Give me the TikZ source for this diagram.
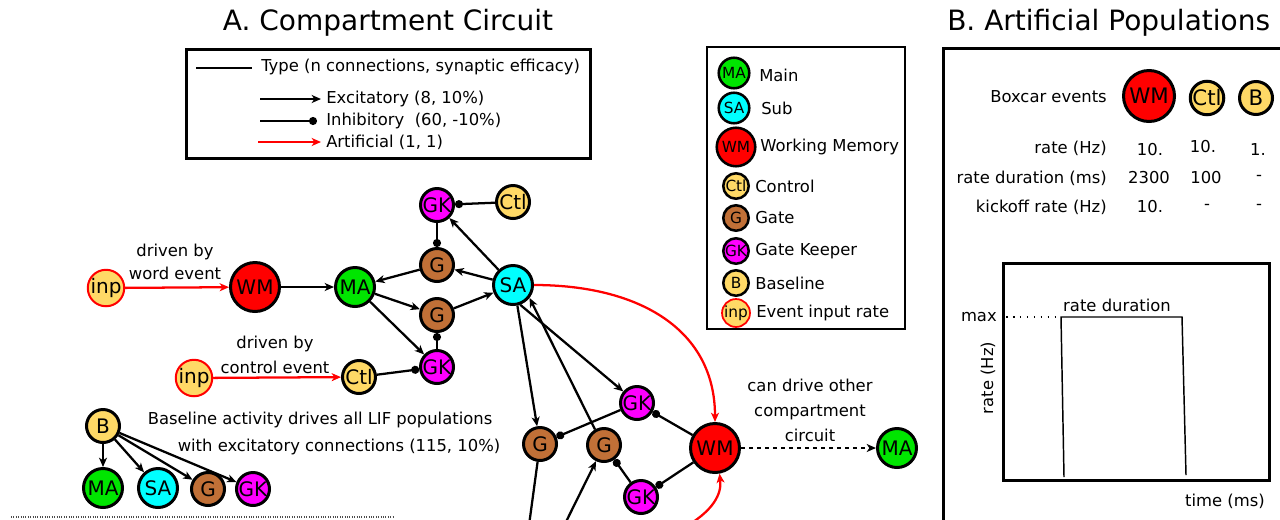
\documentclass[tikz,border=0pt]{standalone}
\usepackage{fontspec}
\setmainfont{DejaVu Sans}
\usetikzlibrary{arrows.meta}
\definecolor{cMA}{RGB}{0,230,0}
\definecolor{cSA}{RGB}{0,255,255}
\definecolor{cWM}{RGB}{255,0,0}
\definecolor{cY}{RGB}{255,217,102}
\definecolor{cG}{RGB}{193,112,55}
\definecolor{cGK}{RGB}{255,0,255}
\begin{document}
\begin{tikzpicture}[x=0.75pt,y=-0.75pt,
  pop/.style={circle,draw=black,line width=2.25pt,inner sep=0pt,font=\fontsize{15}{15}\selectfont},
  big/.style={pop,minimum size=36.75pt},
  med/.style={pop,minimum size=29.25pt},
  sml/.style={pop,minimum size=24.75pt},
  inpnode/.style={sml,draw=red,line width=1.5pt,fill=cY,minimum size=26pt},
  lpop/.style={circle,draw=black,line width=1.9pt,inner sep=0pt,font=\fontsize{11.5}{11.5}\selectfont},
  lbig/.style={lpop,minimum size=28.9pt},
  lmed/.style={lpop,minimum size=22.9pt},
  lsml/.style={lpop,minimum size=19.1pt},
  ppop/.style={circle,draw=black,line width=2.25pt,inner sep=0pt,font=\fontsize{16}{16}\selectfont},
  exc/.style={line width=1.7pt,-{Stealth[length=7pt,width=6pt,inset=2pt]}},
  inh/.style={line width=1.7pt,-{Circle[length=6pt]}},
  art/.style={line width=1.7pt,draw=red,-{Stealth[length=7pt,width=6pt,inset=2pt]}},
  txt/.style={font=\fontsize{12.3}{14}\selectfont,inner sep=0pt},
  ttl/.style={font=\fontsize{21}{24}\selectfont,inner sep=0pt},
]
\useasboundingbox (0,0) rectangle (1280,519);
\clip (0,0) rectangle (1280,519);

% titles
\node[ttl] (titleA) at (388,23) {A. Compartment Circuit};
\node[ttl,anchor=west] (titleB) at (947,23) {B. Artificial Populations};

% legend box 1
\draw[line width=2.25pt] (186,49) rectangle (590,158);
\coordinate (t1) at (196,68); \coordinate (t2) at (252,68);
\coordinate (e1) at (260,99); \coordinate (e2) at (321,99);
\coordinate (i1) at (260,121); \coordinate (i2) at (317,121);
\coordinate (a1) at (258,142); \coordinate (a2) at (321,142);
\draw[line width=1.6pt] (t1) -- (t2);
\draw[exc] (e1) -- (e2);
\draw[inh] (i1) -- (i2);
\draw[art] (a1) -- (a2);
\node[txt,anchor=west] (ltype) at (261,67) {Type (n connections, synaptic efficacy)};
\node[txt,anchor=west] (lexc) at (326,99) {Excitatory (8, 10\%)};
\node[txt,anchor=west] (linh) at (326,121) {Inhibitory\ \ (60, -10\%)};
\node[txt,anchor=west] (lart) at (326,142) {Artificial (1, 1)};

% legend box 2
\draw[line width=1.1pt] (707,47) rectangle (905,329);
\node[lmed,fill=cMA] (LMA) at (734,73) {MA};
\node[lmed,fill=cSA] (LSA) at (734,108) {SA};
\node[lbig,fill=cWM] (LWM) at (736,147) {WM};
\node[lsml,fill=cY] (LCtl) at (736,186) {Ctl};
\node[lsml,fill=cG] (LG) at (736,218) {G};
\node[lsml,fill=cGK] (LGK) at (736,251) {GK};
\node[lsml,fill=cY] (LB) at (736,283) {B};
\node[lsml,fill=cY,draw=red,line width=1.3pt] (Linp) at (736,313) {inp};
\node[txt,anchor=west] (tMain) at (759,75) {Main};
\node[txt,anchor=west] (tSub) at (761,108) {Sub};
\node[txt,anchor=west] (tWM) at (760,147) {Working Memory};
\node[txt,anchor=west] (tCtl) at (755,186) {Control};
\node[txt,anchor=west] (tG) at (755,218) {Gate};
\node[txt,anchor=west] (tGK) at (755,251) {Gate Keeper};
\node[txt,anchor=west] (tB) at (755,283) {Baseline};
\node[txt,anchor=west] (tinp) at (756,313) {Event input rate};

% main graph nodes
\node[inpnode] (inp1) at (106,288) {inp};
\node[big,fill=cWM] (WM) at (255,287) {WM};
\node[med,fill=cMA] (MA) at (355,287) {MA};
\node[sml,fill=cG] (Gt) at (437,265) {G};
\node[sml,fill=cG] (Gb) at (437,315) {G};
\node[sml,fill=cGK] (GKt) at (437,205) {GK};
\node[sml,fill=cGK] (GKb) at (437,367) {GK};
\node[sml,fill=cY] (Ctlt) at (513,202) {Ctl};
\node[med,fill=cSA] (SA) at (513,285) {SA};
\node[inpnode] (inp2) at (194,378) {inp};
\node[sml,fill=cY] (Ctlb) at (359,377) {Ctl};
\node[sml,fill=cY] (B) at (103,426) {B};
\node[med,fill=cMA] (MAb) at (103,488) {MA};
\node[med,fill=cSA] (SAb) at (158,488) {SA};
\node[sml,fill=cG] (Gbb) at (208,489) {G};
\node[sml,fill=cGK] (GKbb) at (253,489) {GK};
\node[sml,fill=cG] (Gl) at (540,444) {G};
\node[sml,fill=cG] (Gr) at (604,445) {G};
\node[sml,fill=cGK] (GKm) at (637,403) {GK};
\node[sml,fill=cGK] (GKl) at (641,497) {GK};
\node[big,fill=cWM] (WMr) at (715,448) {WM};
\node[med,fill=cMA] (MAr) at (897,448) {MA};

% texts
\node[txt,align=center,font=\fontsize{12.3}{17.25}\selectfont] (drv1) at (175,262) {driven by\\word event};
\node[txt,align=center,font=\fontsize{12.3}{18.75}\selectfont] (drv2) at (275,355) {driven by\\control event};
\node[txt] (base1) at (320,420) {Baseline activity drives all LIF populations};
\node[txt] (base2) at (339,447) {with excitatory connections (115, 10\%)};
\node[txt,align=center,font=\fontsize{12.3}{18.75}\selectfont] (cdo) at (810,410) {can drive other\\compartment\\circuit};

% connectors
\draw[art] (inp1) -- (WM);
\draw[art] (inp2) -- (Ctlb);
\draw[exc] (WM) -- (MA);
\draw[exc] (Gt) -- (MA);
\draw[exc] (MA) -- (Gb);
\draw[exc] (MA) -- (GKb);
\draw[exc] (Gb) -- (SA);
\draw[exc] (SA) -- (Gt);
\draw[exc] (SA) -- (GKt);
\draw[inh] (Ctlt) -- (GKt);
\draw[inh] (GKt) -- (Gt);
\draw[inh] (GKb) -- (Gb);
\draw[inh] (Ctlb) -- (GKb);
\draw[exc] (SA.-78) -- (Gl);
\draw[exc] (SA.-70) -- (GKm);
\draw[exc] (Gr.120) -- (SA.-38);
\draw[inh] (GKm) -- (Gl);
\draw[inh] (WMr) -- (GKm);
\draw[inh] (GKl) -- (Gr);
\draw[inh] (WMr) -- (GKl);
\draw[art] (SA.east) .. controls (640,285) and (715,330) .. (WMr.north);
\coordinate (cArt) at (690,524);
\draw[art] (cArt) .. controls (712,510) and (722,495) .. (WMr.-80);
\coordinate (cGl) at (527,540);
\coordinate (cGr) at (557,540);
\draw[line width=1.7pt] (Gl) -- (cGl);
\draw[exc] (cGr) -- (Gr);
\draw[exc,dashed] (WMr) -- (MAr);
\draw[exc] (B) -- (MAb);
\draw[exc] (B) -- (SAb);
\draw[exc] (B) -- (Gbb);
\draw[exc] (B) -- (GKbb);
\coordinate (d1) at (11,517); \coordinate (d2) at (393,517);
\draw[densely dotted,line width=0.8pt,black!70] (d1) -- (d2);

% panel B
\coordinate (pb1) at (943,560); \coordinate (pb2) at (943,48); \coordinate (pb3) at (1300,48);
\draw[line width=2.25pt] (pb1) -- (pb2) -- (pb3);
\node[txt,anchor=east] (box) at (1107,97) {Boxcar events};
\node[ppop,fill=cWM,minimum size=38.25pt] (PWM) at (1149,96) {WM};
\node[ppop,fill=cY,minimum size=24.75pt] (PCtl) at (1207,98) {Ctl};
\node[ppop,fill=cY,minimum size=24.75pt] (PB) at (1256,98) {B};
\node[txt,anchor=east] (r1) at (1107,148) {rate (Hz)};
\node[txt,anchor=east] (r2) at (1107,178) {rate duration (ms)};
\node[txt,anchor=east] (r3) at (1107,207) {kickoff rate (Hz)};
\node[txt] (v11) at (1150,150) {10.};
\node[txt] (v12) at (1203,147) {10.};
\node[txt] (v13) at (1258,150) {1.};
\node[txt] (v21) at (1149,178) {2300};
\node[txt] (v22) at (1206,178) {100};
\node[txt] (v23) at (1259,178) {-};
\node[txt] (v31) at (1150,207) {10.};
\node[txt] (v32) at (1207,207) {-};
\node[txt] (v33) at (1259,207) {-};

% plot
\draw[line width=2.25pt] (1003,263) rectangle (1269,480);
\draw[line width=1.1pt] (1064,477) -- (1061,317) -- (1182,317) -- (1186,475);
\draw[line width=1pt,dash pattern=on 1.2pt off 4pt] (1006,317) -- (1061,317);
\node[txt,anchor=east] (pmax) at (997,317) {max};
\node[txt] (prd) at (1117,305) {rate duration};
\node[txt,rotate=90] (prate) at (988,378) {rate (Hz)};
\node[txt] (ptime) at (1225,501) {time (ms)};
\end{tikzpicture}
\end{document}
